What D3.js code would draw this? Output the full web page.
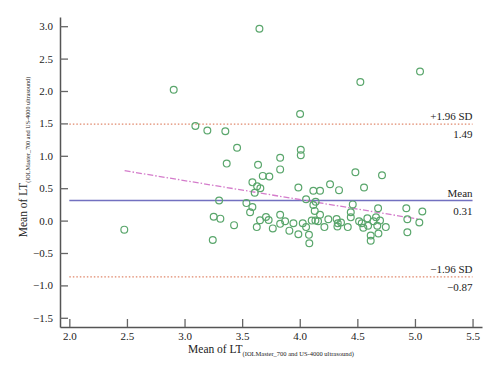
<!DOCTYPE html>
<html>
<head>
<meta charset="utf-8">
<script src="https://cdn.jsdelivr.net/npm/d3@7"></script>
<style>
html,body{margin:0;padding:0;background:#fff;}
svg{display:block;}
text{font-family:"Liberation Serif","DejaVu Serif",serif;fill:#222;}
</style>
</head>
<body>
<svg id="chart" width="500" height="376"></svg>
<script>
// ---- data ----
const xVals = [3.65,2.906,3.094,3.198,3.354,3.456,3.366,3.638,3.679,3.736,3.83,3.83,5.044,4.526,4.003,4.009,4.009,4.483,4.714,
  3.589,3.63,3.658,3.609,3.30,3.537,3.589,3.569,3.253,3.311,3.43,3.707,3.655,3.73,3.627,3.766,3.83,3.83,3.245,2.477,
  3.988,4.118,4.176,4.055,4.118,4.138,4.13,3.873,3.945,3.91,3.988,4.026,4.055,4.104,4.136,4.159,4.08,4.083,
  4.263,4.341,4.558,4.46,4.176,4.443,4.443,4.68,4.248,4.32,4.33,4.358,4.327,4.214,4.417,4.515,4.538,4.587,4.593,4.552,
  4.64,4.662,4.697,4.673,4.747,4.683,4.616,4.616,4.925,5.064,4.934,5.038,4.934];
const yVals = [2.96,2.02,1.46,1.39,1.38,1.125,0.88,0.86,0.69,0.68,0.97,0.79,2.30,2.14,1.645,1.094,1.01,0.745,0.70,
  0.59,0.53,0.50,0.43,0.31,0.27,0.21,0.13,0.06,0.03,-0.07,0.055,0.005,0.01,-0.10,-0.12,0.09,-0.05,-0.30,-0.14,
  0.51,0.46,0.46,0.33,0.24,0.29,0.15,-0.01,-0.04,-0.155,-0.21,-0.04,-0.10,0.00,0.00,-0.01,-0.22,-0.35,
  0.56,0.47,0.51,0.25,0.09,0.13,0.05,0.19,0.02,0.025,-0.04,-0.03,-0.09,-0.10,-0.10,-0.01,-0.04,0.035,-0.08,-0.11,
  -0.01,0.05,0.00,-0.08,-0.10,-0.20,-0.23,-0.31,0.19,0.14,0.02,-0.03,-0.18];
const xTicks = [2.0,2.5,3.0,3.5,4.0,4.5,5.0,5.5];
const yTicks = [3.0,2.5,2.0,1.5,1.0,0.5,0.0,-0.5,-1.0,-1.5];
const meanDiff = 0.31;
const upperLoA = 1.49;
const lowerLoA = -0.87;
const lineRange = [2.0, 5.5];
const regX = [2.48, 5.04];
const regY = [0.77, 0.02];
const axisTitle = "Mean of LT";
const axisSub = "(IOLMaster_700 and US-4000 ultrasound)";

// ---- chart ----
const svg = d3.select("#chart");
const x = d3.scaleLinear().domain([1.919, 5.582]).range([60, 482]);
const y = d3.scaleLinear().domain([-1.642, 3.142]).range([327, 17]);
const fmt = d3.format(".1f");
const minus = s => s.replace("-", "\u2212");

const gx = svg.append("g").attr("transform","translate(0,327)")
  .call(d3.axisBottom(x).tickValues(xTicks).tickSizeInner(-8).tickSizeOuter(0).tickPadding(5).tickFormat(d=>minus(fmt(d))));
const gy = svg.append("g").attr("transform","translate(60,0)")
  .call(d3.axisLeft(y).tickValues(yTicks).tickSizeInner(-8).tickSizeOuter(0).tickPadding(7).tickFormat(d=>minus(fmt(d))));
[gx,gy].forEach(g=>{
  g.select(".domain").attr("stroke","#555").attr("stroke-width",1.5);
  g.selectAll(".tick line").attr("stroke","#666").attr("stroke-width",1.3);
  g.selectAll(".tick text").attr("font-size",11).attr("font-family","Liberation Serif, serif").attr("fill","#222");
});

// reference lines
const lines = [
  {v:upperLoA, color:"#e0876a", dash:"1.5,2", w:1.3, top:"+1.96 SD", bot:"1.49"},
  {v:meanDiff, color:"#7270c0", dash:null, w:1.4, top:"Mean", bot:"0.31"},
  {v:lowerLoA, color:"#e0876a", dash:"1.5,2", w:1.3, top:"\u22121.96 SD", bot:"\u22120.87"}
];
lines.forEach(l=>{
  svg.append("line").attr("x1",x(lineRange[0])).attr("x2",x(lineRange[1]))
    .attr("y1",y(l.v)).attr("y2",y(l.v)).attr("stroke",l.color).attr("stroke-width",l.w)
    .attr("stroke-dasharray",l.dash);
  svg.append("text").attr("x",x(lineRange[1])).attr("y",y(l.v)-4).attr("text-anchor","end")
    .attr("font-size",11).text(l.top);
  svg.append("text").attr("x",x(lineRange[1])).attr("y",y(l.v)+14).attr("text-anchor","end")
    .attr("font-size",11).text(l.bot);
});

// regression line
svg.append("line").attr("x1",x(regX[0])).attr("y1",y(regY[0])).attr("x2",x(regX[1])).attr("y2",y(regY[1]))
  .attr("stroke","#d47ccb").attr("stroke-width",1.3).attr("stroke-dasharray","6,2,1.5,2");

// points
svg.append("g").selectAll("circle").data(xVals.map((d,i)=>[d,yVals[i]])).join("circle")
  .attr("cx",d=>x(d[0])).attr("cy",d=>y(d[1])).attr("r",3.4)
  .attr("fill","none").attr("stroke","#5aa66c").attr("stroke-width",1.2);

// axis titles
const xt = svg.append("text").attr("x",271).attr("y",353).attr("text-anchor","middle");
xt.append("tspan").attr("font-size",11.5).text(axisTitle);
xt.append("tspan").attr("font-size",6.5).attr("dy",3).text(axisSub);

const yt = svg.append("text").attr("transform","translate(27,157) rotate(-90)").attr("text-anchor","middle");
yt.append("tspan").attr("font-size",11.5).text(axisTitle);
yt.append("tspan").attr("font-size",6.2).attr("dy",3).text(axisSub);
</script>
</body>
</html>
